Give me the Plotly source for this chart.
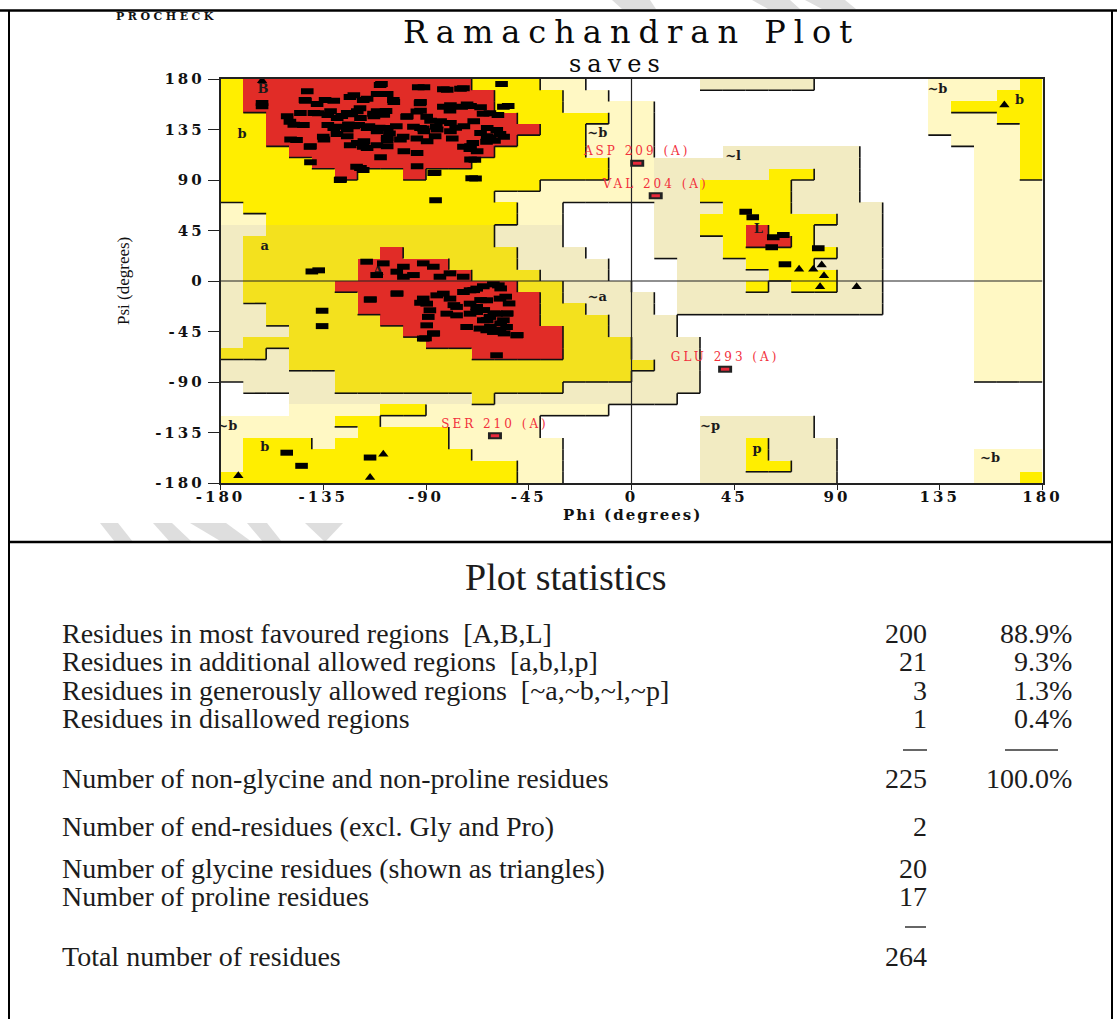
import plotly.graph_objects as go

W, H = 1117, 1019

# ---------------------------------------------------------------------------
# Ramachandran region map in 10-degree cells.
# Rows run from psi 180 (top) down to psi -180, columns from phi -180 to 180.
# '.' disallowed, 'c'/'g' generously allowed, 'Y'/'y' additionally allowed,
# 'R' most favoured.
# ---------------------------------------------------------------------------
region_rows = [
    "YRRRRR" "RRRRRY" "YYcc.." "...ggg" "gg...." ".ccccY",
    "YRRRRR" "RRRRRR" "YYYcc." "......" "......" ".cccYY",
    "YRRRRR" "RRRRRR" "YYYccc" "c....." "......" ".cYYYY",
    "YYRRRR" "RRRRRR" "RYYYYc" "c....." "......" ".cccYY",
    "YYRRRR" "RRRRRR" "RRYYcc" "c....." "......" ".ccccY",
    "YYRRRR" "RRRRRR" "RYYYcc" "c....." "......" "..cccY",
    "YYYRRR" "RRRRRR" "YYYYcc" "c...gg" "gggg.." "...ccY",
    "YYYYRR" "RRRRRY" "YYYYYc" "cggggg" "gggg.." "...ccY",
    "YYYYYR" "YYRYYY" "YYYYYc" "cggggg" "YYgg.." "...ccY",
    "YYYYYY" "YYYYYY" "YYcccc" "cggYYY" "Yggg.." "...ccc",
    "YYYYYY" "YYYYYY" "cccccc" "cggYYY" "Yggg.." "...ccc",
    "cYYYYY" "YYYYYY" "Ycc..." ".gggYY" "Ygggg." "...ccc",
    "ccYYYY" "YYYYYY" "Ycc..." ".ggYYY" "YYYgg." "...ccc",
    "ggyyyy" "yyyyyy" "ggg..." ".ggYYR" "YYggg." "...ccc",
    "gyyyyy" "yyyyyy" "ggg..." ".gggYR" "RYggg." "...ccc",
    "gyyyyy" "yRyyyy" "yggg.." ".gggYY" "YYYgg." "...ccc",
    "gyyyyy" "RRRRyy" "ygggg." "..gggY" "YYggg." "...ccc",
    "gyyyyy" "RRRRRy" "yyggg." "..gggg" "YYYgg." "...ccc",
    "gyyyyR" "RRRRRR" "Ryyggg" "..gggY" "gYYgg." "...ccc",
    "gyyyyy" "RRRRRR" "RRyggg" "g.gggg" "ggggg." "...ccc",
    "ggyyyy" "RRRRRR" "RRyygg" "g.gggg" "ggggg." "...ccc",
    "ggyyyy" "yRRRRR" "RRyyyg" "gg...." "......" "...ccc",
    "gggyyy" "yyRRRR" "RRRyyg" "gg...." "......" "...ccc",
    "gyyyyy" "yyyRRR" "RRRyyy" "ggg..." "......" "...ccc",
    "yygyyy" "yyyyyR" "RRRyyy" "ggg..." "......" "...ccc",
    "gggyyy" "yyyyyy" "yyyyyy" "ygg..." "......" "...ccc",
    "gggggy" "yyyyyy" "yyyyyy" "ggg..." "......" "...ccc",
    ".ggggy" "yyyyyy" "yyyggg" "ggg..." "......" "......",
    "...ggg" "gggggy" "gggggg" "gg...." "......" "......",
    "...ccc" "cYYccc" "ccccc." "......" "......" "......",
    "cccccY" "Yccccc" "cc...." "...ggg" "gg...." "......",
    "cccccc" "YYYYcc" "cc...." "...ggg" "gg...." "......",
    "cYYYcY" "YYYYcc" "ccc..." "...ggY" "ggg..." "......",
    "cYYYYY" "YYYYYc" "ccc..." "...ggY" "ggg..." "...ccc",
    "cYYYYY" "YYYYYY" "Ycc..." "...ggY" "Ygg..." "...ccc",
    "YYYYYY" "YYYYYY" "Ycc..." "...ggg" "ggg..." "...ccY",
]

region_codes = {".": 0, "c": 1, "g": 2, "Y": 3, "y": 4, "R": 5}
region_colors = ["#FFFFFF", "#FFF8C4", "#F2EBC2", "#FFEE00", "#F3E11E", "#E12C27"]
region_level = {".": 0, "c": 1, "g": 1, "Y": 2, "y": 2, "R": 3}

# Non-glycine, non-proline residues (phi, psi)
phi_res = [
    -109.5, -90.9, -80.7, -74.9, -142.0, -121.6, -107.0, -111.4, -115.8, -142.8,
    -130.4, -137.7, -104.1, -92.4, -79.3, -72.0, -66.1, -131.8, -124.5, -120.1,
    -111.4, -92.4, -150.8, -145.0, -139.1, -128.9, -118.7, -112.8, -108.5, -98.2,
    -88.0, -83.6, -79.3, -73.4, -69.1, -63.2, -66.1, -147.9, -130.4, -124.5,
    -121.6, -115.8, -111.4, -107.0, -92.4, -90.9, -85.1, -79.3, -63.2, -61.8,
    -149.3, -134.7, -124.5, -117.2, -107.0, -101.2, -89.5, -140.6, -120.1, -115.8,
    -107.0, -99.7, -93.9, -70.5, -67.6, -109.9, -140.6, -118.7, -93.9, -70.5,
    -86.6, -127.4, -68.3, -85.8, -56.9, -56.1, -54.0, -62.0, -58.5, -59.0,
    -57.6, -56.0, -60.0, -70.8, -68.6, -143.0, -134.2, -123.3, -117.5, -110.1,
    -104.3, -93.4, -82.4, -73.6, -137.2, -133.0, -126.9, -122.5, -118.9, -113.0,
    -107.5, -98.5, -92.6, -94.0, -89.7, -82.4, -79.5, -74.4, -70.5, -65.0,
    -77.0, -85.5, -91.2, -95.5, -103.0, -106.0, -110.5, -115.0, -119.5, -124.0,
    -128.5, -133.0, -143.7, -149.6, -146.7, -140.8, -135.0, -129.0, -123.2, -117.5,
    -111.5, -107.0, -100.0, -94.0, -86.0, -78.5, -73.6, -69.5, -63.5, -120.4,
    -117.5, -127.6, -86.0, -70.0, -161.8, -161.8,
    -140.0, -137.0, -116.0, -108.7, -102.8, -99.9, -95.5, -91.2, -86.8, -83.9,
    -79.5, -73.7, -99.9, -111.6, -102.8, -114.5, -91.2, -89.7, -85.3, -82.4,
    -79.5, -73.6, -70.7, -67.8, -64.9, -60.5, -58.3, -76.6, -70.7, -67.8,
    -63.4, -57.6, -88.3, -80.9, -76.6, -70.7, -67.8, -64.9, -62.0, -59.1,
    -54.7, -56.1, -89.0, -89.7, -72.2, -66.4, -63.4, -60.5, -57.6, -54.7,
    -50.3, -91.2, -86.8, -59.1, -135.5, -135.5, -114.3, -102.6, -92.4, -86.6,
    -90.2, -77.8, -69.1, -66.1, -64.7, -63.2, -61.8, -60.3, -57.3, -54.4,
    -57.3, -58.7, -55.8, -50.0, -55.1, -53.6,
    50.0, 53.1, 62.1, 66.5, 61.4, 81.8, 67.2,
    -151.0, -144.5, -114.5,
]
psi_res = [
    175.5, 172.6, 170.5, 171.4, 169.0, 165.5, 166.6, 166.6, 162.5, 160.7,
    160.7, 157.7, 159.5, 159.5, 156.6, 157.2, 154.8, 151.2, 149.7, 151.2,
    151.2, 151.8, 146.8, 149.7, 149.7, 145.3, 145.3, 146.8, 148.2, 146.8,
    142.9, 142.3, 140.8, 137.9, 142.3, 136.4, 131.9, 139.3, 136.4, 134.9,
    137.9, 136.4, 133.4, 136.4, 136.4, 133.4, 134.9, 133.4, 129.0, 127.5,
    126.0, 126.0, 129.0, 124.5, 127.5, 126.0, 124.5, 120.1, 123.0, 118.6,
    120.1, 115.6, 114.1, 120.1, 115.6, 110.3, 105.8, 100.8, 102.3, 108.2,
    96.3, 90.4, 91.3, 72.0, 175.5, 155.3, 156.0, 149.5, 148.0, 134.5,
    131.0, 128.6, 125.0, 117.7, 108.0, 161.3, 161.3, 164.0, 161.3, 174.7,
    161.3, 172.6, 170.8, 171.7, 149.4, 148.0, 147.0, 148.5, 153.9, 149.0,
    151.5, 146.4, 158.3, 151.0, 146.4, 155.3, 152.0, 155.3, 156.0, 149.0,
    136.5, 137.5, 136.0, 137.5, 138.0, 131.5, 136.5, 138.0, 139.0, 139.5,
    137.5, 139.0, 139.0, 142.0, 125.6, 119.7, 128.5, 131.0, 121.0, 119.7,
    121.0, 125.6, 128.6, 127.0, 129.0, 127.0, 119.7, 123.0, 124.0, 101.9,
    99.0, 90.0, 96.5, 91.5, 158.6, 155.7,
    8.5, 9.5, 17.2, 15.7, 8.3, 12.7, 5.3, 15.7, 12.7, 3.8,
    6.8, 3.8, 3.8, 5.3, -11.3, -16.6, -15.7, -20.2, -12.8, -11.3,
    -15.7, -9.8, -8.3, -6.8, -4.7, -3.0, -3.9, -23.1, -20.2, -23.1,
    -17.2, -15.7, -26.1, -29.1, -30.6, -29.1, -27.6, -35.0, -32.0, -29.1,
    -29.1, -35.0, -32.0, -39.5, -41.0, -42.4, -43.9, -45.4, -43.9, -41.0,
    -48.4, -51.3, -46.9, -66.2, -26.5, -40.2, -16.4, -11.1, -19.4, -46.7,
    -51.1, -21.5, -8.1, -17.0, -25.9, -34.8, -40.7, -28.9, -6.6, -28.9,
    -37.8, -43.7, -46.7, -48.2, -14.0, -20.0,
    61.8, 56.8, 38.9, 41.0, 30.0, 29.1, 14.9,
    -153.0, -164.7, -157.3,
]

# Glycine residues (triangles)
phi_gly = [-161.8, 73.4, 79.6, 83.3, 84.3, 82.6, 98.6, -108.7, -114.5, -172.2, 163.3]
psi_gly = [178.5, 10.4, 10.4, 14.3, 4.7, -5.1, -5.1, -154.3, -175.0, -173.6, 156.9]

# Residues outside the favoured/allowed regions
out_names = ["ASP 209 (A)", "VAL 204 (A)", "GLU 293 (A)", "SER 210 (A)"]
out_phi = [2.5, 10.6, 41.0, -59.8]
out_psi = [105.0, 76.0, -78.6, -137.9]

# Region labels
lab_text = ["B", "b", "a", "A", "~b", "~l", "~b", "b", "L", "~a", "~b", "b", "~p", "p", "~b"]
lab_phi = [-161.4, -170.6, -160.6, -111.0, -15.0, 44.5, 134.0, 170.0, 55.5, -15.0, -177.0, -160.6, 34.4, 55.0, 157.0]
lab_psi = [170.1, 130.0, 30.3, 8.0, 131.0, 110.5, 170.0, 160.4, 45.5, -15.0, -130.0, -148.8, -130.0, -150.6, -158.6]

tick_vals = [-180, -135, -90, -45, 0, 45, 90, 135, 180]
tick_text = ["-180", "-135", "-90", "-45", "0", "45", "90", "135", "180"]

# Statistics table
stat_labels = [
    "Residues in most favoured regions\u00a0\u00a0[A,B,L]",
    "Residues in additional allowed regions\u00a0\u00a0[a,b,l,p]",
    "Residues in generously allowed regions\u00a0\u00a0[~a,~b,~l,~p]",
    "Residues in disallowed regions",
    "Number of non-glycine and non-proline residues",
    "Number of end-residues (excl. Gly and Pro)",
    "Number of glycine residues (shown as triangles)",
    "Number of proline residues",
    "Total number of residues",
]
stat_counts = ["200", "21", "3", "1", "225", "2", "20", "17", "264"]
stat_pcts = ["88.9%", "9.3%", "1.3%", "0.4%", "100.0%", "", "", "", ""]
stat_rows_y = [633, 661, 690, 718, 778, 826, 868, 896, 956]


def px(x):
    return x / W


def py(y):
    return 1 - y / H


def spaced(s, sp):
    return '<span style="letter-spacing:%spx">%s</span>' % (sp, s)


# ---------------------------------------------------------------------------
fig = go.Figure()

# Region map as a categorical heatmap
cells = [[region_codes[ch] for ch in row] for row in reversed(region_rows)]
centers = [-175 + 10 * i for i in range(36)]
n = len(region_colors)
cscale = []
for i, col in enumerate(region_colors):
    cscale.append([i / n, col])
    cscale.append([(i + 1) / n, col])
fig.add_trace(go.Heatmap(
    z=cells, x=centers, y=centers, zmin=-0.5, zmax=n - 0.5,
    colorscale=cscale, showscale=False, hoverinfo="skip", xgap=0, ygap=0,
))

# Region borders: drawn on the right / lower side of a cell when the
# neighbouring cell belongs to a lower class
bx, by = [], []
for r in range(36):
    top = 180 - 10 * r
    bottom = top - 10
    for c in range(36):
        left = -180 + 10 * c
        right = left + 10
        lv = region_level[region_rows[r][c]]
        if c < 35 and lv > region_level[region_rows[r][c + 1]]:
            bx += [right, right, None]
            by += [top, bottom, None]
        if r < 35 and lv > region_level[region_rows[r + 1][c]]:
            bx += [left, right, None]
            by += [bottom, bottom, None]
fig.add_trace(go.Scatter(x=bx, y=by, mode="lines", line=dict(color="#111111", width=1.6),
                         hoverinfo="skip", showlegend=False))

# Axis cross-hairs through phi = 0 and psi = 0
fig.add_trace(go.Scatter(x=[-180, 180, None, 0, 0], y=[0, 0, None, -180, 180], mode="lines",
                         line=dict(color="#222222", width=1.2), hoverinfo="skip", showlegend=False))

# Region labels
fig.add_trace(go.Scatter(
    x=lab_phi, y=lab_psi, mode="text", text=["<b>%s</b>" % t for t in lab_text],
    textfont=dict(family="DejaVu Serif", size=13, color="#1a1a1a"),
    hoverinfo="skip", showlegend=False,
))

# Residues
fig.add_trace(go.Scatter(
    x=phi_res, y=psi_res, mode="markers",
    marker=dict(symbol="line-ew", size=9, color="black", line=dict(color="black", width=6)),
    hoverinfo="skip", showlegend=False,
))
fig.add_trace(go.Scatter(
    x=phi_gly, y=psi_gly, mode="markers",
    marker=dict(symbol="triangle-up", size=9, color="black", line=dict(width=0)),
    hoverinfo="skip", showlegend=False,
))

# Outliers with residue labels
fig.add_trace(go.Scatter(
    x=out_phi, y=out_psi, mode="markers",
    marker=dict(symbol="line-ew", size=10, color="black", line=dict(color="#222222", width=7)),
    hoverinfo="skip", showlegend=False,
))
fig.add_trace(go.Scatter(
    x=out_phi, y=out_psi, mode="markers+text",
    marker=dict(symbol="line-ew", size=6, color="#E8283A", line=dict(color="#E8283A", width=3)),
    text=[spaced(t, 3) for t in out_names], textposition="top center",
    textfont=dict(family="DejaVu Serif", size=12, color="#F2303C"),
    hoverinfo="skip", showlegend=False,
))

axis_font = dict(family="DejaVu Serif", size=15, color="#111111")
fig.update_xaxes(
    domain=[px(220.5), px(1042.5)], range=[-180, 180], showgrid=False, zeroline=False,
    showline=True, mirror=True, linecolor="#222222", linewidth=1.6,
    ticks="outside", ticklen=5, tickwidth=1.4, tickcolor="#222222",
    tickvals=tick_vals, ticktext=[spaced("<b>%s</b>" % t, 3) for t in tick_text],
    tickfont=axis_font, fixedrange=True, automargin=False, ticklabelstandoff=-6,
)
fig.update_yaxes(
    domain=[py(483), py(79)], range=[-180, 180], showgrid=False, zeroline=False,
    showline=True, mirror=True, linecolor="#222222", linewidth=1.6,
    ticks="outside", ticklen=11, tickwidth=1.4, tickcolor="#222222",
    tickvals=tick_vals, ticktext=[spaced("<b>%s</b>" % t, 3) for t in tick_text],
    tickfont=axis_font, fixedrange=True, automargin=False,
)

ann = []
ann.append(dict(x=px(166), y=py(16), text=spaced("<b>PROCHECK</b>", 3.5),
                font=dict(family="DejaVu Serif", size=11, color="#111111")))
ann.append(dict(x=px(631), y=py(32), text=spaced("Ramachandran Plot", 8),
                font=dict(family="DejaVu Serif", size=32, color="#0a0a0a")))
ann.append(dict(x=px(617), y=py(64), text=spaced("saves", 6),
                font=dict(family="DejaVu Serif", size=24, color="#0a0a0a")))
ann.append(dict(x=px(632), y=py(515), text=spaced("<b>Phi (degrees)</b>", 2),
                font=dict(family="DejaVu Serif", size=15, color="#111111")))
ann.append(dict(x=px(123), y=py(281), text="Psi (degrees)", textangle=-90,
                font=dict(family="Liberation Serif", size=17, color="#111111")))

# Statistics block
stat_font = dict(family="Liberation Serif", size=28, color="#1c1c1c")
ann.append(dict(x=px(566), y=py(577), text="Plot statistics",
                font=dict(family="Liberation Serif", size=38, color="#1c1c1c")))
for lab, cnt, pct, yy in zip(stat_labels, stat_counts, stat_pcts, stat_rows_y):
    ann.append(dict(x=px(60), y=py(yy), text=lab, xanchor="left", font=stat_font))
    ann.append(dict(x=px(929), y=py(yy), text=cnt, xanchor="right", font=stat_font))
    if pct:
        ann.append(dict(x=px(1074), y=py(yy), text=pct, xanchor="right", font=stat_font))

for a in ann:
    a.update(xref="paper", yref="paper", showarrow=False)
    a.setdefault("xanchor", "center")
    a.setdefault("yanchor", "middle")

shapes = []
# Frame of the two panels
for (x0, y0, x1, y1, w) in [(0, 10.5, W, 10.5, 2.5), (9, 10.5, 9, H, 2),
                            (1112, 10.5, 1112, H, 2), (9, 542, 1112, 542, 2.5)]:
    shapes.append(dict(type="line", xref="paper", yref="paper",
                       x0=px(x0), y0=py(y0), x1=px(x1), y1=py(y1),
                       line=dict(color="#000000", width=w)))
# Underlines in the statistics table
for (x0, x1, yy) in [(903, 927, 750), (1005, 1058, 750), (905, 926, 927)]:
    shapes.append(dict(type="line", xref="paper", yref="paper",
                       x0=px(x0), y0=py(yy), x1=px(x1), y1=py(yy),
                       line=dict(color="#333333", width=1.5)))
# Faint background logo strokes
logo = [
    [(100, 523), (118, 523), (133, 542), (115, 542)],
    [(153, 523), (172, 523), (192, 542), (170, 542)],
    [(190, 523), (226, 523), (252, 542), (222, 542)],
    [(247, 523), (267, 523), (282, 542), (263, 542)],
    [(305, 523), (343, 523), (325, 542)],
    [(612, 0), (650, 0), (656, 9), (622, 9)],
    [(752, 0), (790, 0), (800, 9), (768, 9)],
    [(805, 0), (845, 0), (856, 9), (822, 9)],
]
for poly in logo:
    path = "M " + " L ".join("%.5f,%.5f" % (px(x), py(y)) for x, y in poly) + " Z"
    shapes.append(dict(type="path", xref="paper", yref="paper", path=path,
                       fillcolor="#DEDEDE", line=dict(width=0), layer="below"))

fig.update_layout(
    width=W, height=H, margin=dict(l=0, r=0, t=0, b=0, pad=0, autoexpand=False),
    paper_bgcolor="white", plot_bgcolor="white",
    showlegend=False, annotations=ann, shapes=shapes,
)

fig.write_html("out.html")
